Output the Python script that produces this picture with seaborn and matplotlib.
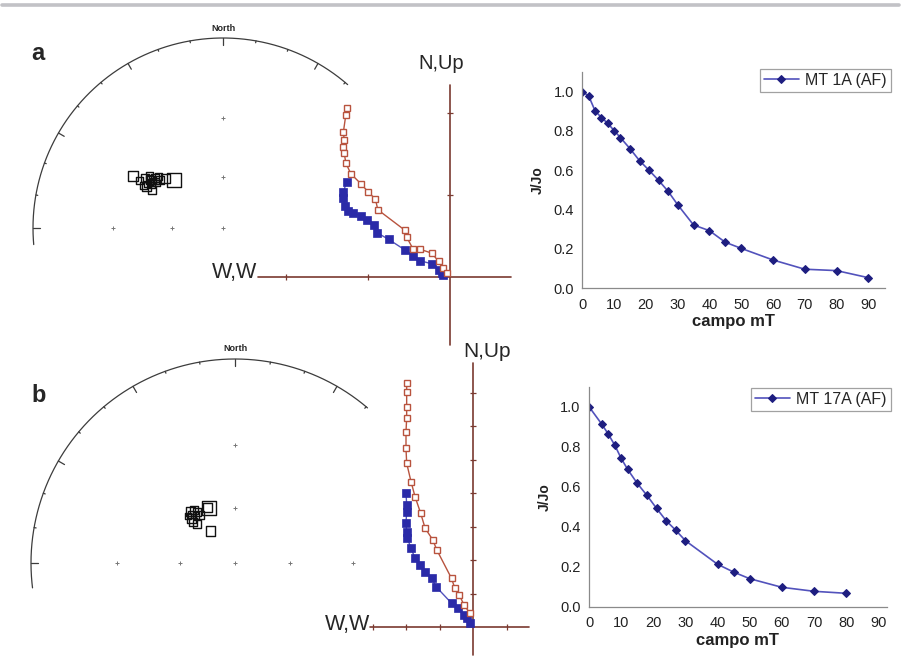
import numpy as np
import pandas as pd
import matplotlib
matplotlib.use("Agg")
import matplotlib.pyplot as plt
import seaborn as sns
from matplotlib.lines import Line2D

# ---------------- data ----------------
# AF demagnetisation curves (J/Jo vs field)
field_a = [0, 2, 4, 6, 8, 10, 12, 15, 18, 21, 24, 27, 30, 35, 40, 45, 50, 60, 70, 80, 90]
jjo_a = [1.0, 0.978, 0.903, 0.868, 0.839, 0.802, 0.766, 0.710, 0.649, 0.600, 0.549,
         0.493, 0.425, 0.322, 0.293, 0.234, 0.203, 0.144, 0.097, 0.090, 0.054]
field_b = [0, 4, 6, 8, 10, 12, 15, 18, 21, 24, 27, 30, 40, 45, 50, 60, 70, 80]
jjo_b = [1.0, 0.912, 0.863, 0.808, 0.742, 0.687, 0.617, 0.557, 0.492, 0.430, 0.382,
         0.330, 0.212, 0.173, 0.140, 0.097, 0.077, 0.067]
label_a = "MT 1A (AF)"
label_b = "MT 17A (AF)"
x_ticks = [0, 10, 20, 30, 40, 50, 60, 70, 80, 90]
y_ticks = [0.0, 0.2, 0.4, 0.6, 0.8, 1.0]

# Zijderveld diagrams (open = red, filled = blue)
zij_a_open_x = [-1.26, -1.27, -1.30, -1.29, -1.30, -1.29, -1.27, -1.21, -1.08, -1.00, -0.91,
                -0.88, -0.55, -0.53, -0.45, -0.37, -0.22, -0.14, -0.08, -0.04]
zij_a_open_y = [2.06, 1.98, 1.77, 1.67, 1.59, 1.51, 1.39, 1.26, 1.13, 1.04, 0.95,
                0.82, 0.57, 0.49, 0.34, 0.34, 0.29, 0.19, 0.11, 0.05]
zij_a_fill_x = [-1.26, -1.30, -1.30, -1.28, -1.24, -1.18, -1.08, -1.01, -0.93, -0.89, -0.75,
                -0.55, -0.45, -0.37, -0.22, -0.14, -0.10, -0.08]
zij_a_fill_y = [1.16, 1.04, 0.96, 0.86, 0.80, 0.78, 0.74, 0.70, 0.63, 0.54, 0.46,
                0.33, 0.26, 0.20, 0.16, 0.09, 0.05, 0.02]
zij_b_open_x = [-1.98, -1.98, -1.98, -1.98, -2.00, -2.00, -1.98, -1.85, -1.73, -1.56, -1.43,
                -1.20, -1.08, -0.64, -0.54, -0.41, -0.27, -0.09]
zij_b_open_y = [7.27, 7.02, 6.58, 6.23, 5.83, 5.33, 4.89, 4.34, 3.89, 3.39, 2.95,
                2.60, 2.30, 1.45, 1.15, 0.96, 0.66, 0.41]
zij_b_fill_x = [-2.00, -1.98, -1.98, -2.00, -1.98, -1.96, -1.85, -1.73, -1.58, -1.43, -1.23,
                -1.10, -0.64, -0.44, -0.27, -0.19, -0.09]
zij_b_fill_y = [4.01, 3.64, 3.44, 3.10, 2.84, 2.65, 2.35, 2.05, 1.85, 1.65, 1.45,
                1.20, 0.71, 0.56, 0.36, 0.26, 0.11]

# Stereonet directions (declination, inclination in degrees) and symbol size (pt)
dec_a = [300.0, 314.4, 303.3, 302.7, 306.3, 300.4, 298.2, 307.3, 299.5, 310.8, 305.5, 298.3,
         303.9, 298.3, 303.9, 308.7, 302.0, 304.8, 301.2, 305.0]
inc_a = [32.6, 50.3, 40.6, 38.0, 42.2, 40.8, 44.0, 44.8, 36.6, 46.2, 39.4, 41.0,
         44.0, 39.0, 42.2, 42.8, 41.5, 40.0, 42.6, 43.4]
sym_a = [7.0, 10.0, 5.5, 5.5, 5.5, 5.0, 6.0, 6.0, 5.0, 6.5, 5.0, 6.5, 5.0, 5.0, 4.5, 5.0,
         4.0, 4.0, 4.5, 4.0]
dec_b = [334.5, 333.6, 323.1, 319.2, 315.6, 314.3, 315.7, 323.3, 315.0, 323.9, 322.3, 318.0,
         320.5]
inc_b = [56.5, 56.2, 67.8, 53.4, 55.8, 57.9, 60.1, 55.4, 53.9, 57.6, 53.6, 54.6, 56.4]
sym_b = [10.0, 6.5, 6.5, 6.5, 6.5, 5.5, 5.5, 5.5, 5.0, 5.5, 5.5, 4.5, 4.5]
grid_inc = [60, 30]

# ---------------- style ----------------
sns.set_style("white")
plt.rcParams['font.family'] = ['Liberation Sans', 'DejaVu Sans']

W, H = 901, 671
fig = plt.figure(figsize=(W / 100, H / 100), dpi=100)
fig.patch.set_facecolor("white")

AXIS_BROWN = "#7a3a30"
RED = "#b8533e"
BLUE = "#2a2aa8"
BLUE_LINE = "#5252bc"
NET = "#3c3c3c"


def px_axes(cx, cy, sx, sy, xlim, ylim):
    left = cx + xlim[0] * sx
    right = cx + xlim[1] * sx
    top = cy - ylim[1] * sy
    bottom = cy - ylim[0] * sy
    ax = fig.add_axes([left / W, 1 - bottom / H, (right - left) / W, (bottom - top) / H])
    ax.set_xlim(*xlim)
    ax.set_ylim(*ylim)
    ax.patch.set_alpha(0)
    return ax


def proj(dec, inc):
    d = np.radians(np.asarray(dec))
    r = np.tan(np.radians(90 - np.asarray(inc)) / 2)
    return r * np.sin(d), r * np.cos(d)


def stereonet(cx, cy, R, arc, east_grid, dec, inc, sym, north_y):
    ax = px_axes(cx, cy, R, R, (-1.16, 1.16), (-0.2, 1.12))
    ax.axis("off")
    th = np.radians(np.linspace(arc[0], arc[1], 300))
    ax.plot(np.cos(th), np.sin(th), color=NET, lw=0.9)
    for a in range(50, 190, 10):
        if arc[0] <= a <= arc[1]:
            ln = 0.035 if a % 30 == 0 else 0.01
            t = np.radians(a)
            ax.plot([np.cos(t), (1 - ln) * np.cos(t)], [np.sin(t), (1 - ln) * np.sin(t)],
                    color=NET, lw=0.9)
    gr = np.tan(np.radians(90 - np.array(grid_inc)) / 2)
    gx = [0.0] + [0.0] * len(gr) + list(-gr)
    gy = [0.0] + list(gr) + [0.0] * len(gr)
    if east_grid:
        gx += list(gr)
        gy += [0.0] * len(gr)
    ax.plot(gx, gy, ls="none", marker="+", ms=3, mew=0.7, color="#777777")
    x, y = proj(dec, inc)
    df = pd.DataFrame({"x": x, "y": y, "s": sym})
    sizes = {v: v ** 2 for v in sorted(set(sym))}
    sns.scatterplot(data=df, x="x", y="y", size="s", sizes=sizes, marker="s",
                    facecolor="none", edgecolor="#111111", linewidth=1.0, legend=False, ax=ax)
    ax.set_xlim(-1.16, 1.16)
    ax.set_ylim(-0.2, 1.12)
    ax.text(0, north_y, "North", ha="center", va="bottom", fontsize=6.5, fontweight="bold")
    return ax


def zijderveld(cx, cy, u, hx, vy, hticks, vticks, ox, oy, fx, fy):
    ax = px_axes(cx, cy, u, u, (hx[0] - 0.1, hx[1] + 0.1), (vy[0] - 0.1, vy[1] + 0.1))
    ax.axis("off")
    ax.plot(hx, [0, 0], color=AXIS_BROWN, lw=1.2)
    ax.plot([0, 0], vy, color=AXIS_BROWN, lw=1.2)
    ax.plot(hticks, [0] * len(hticks), ls="none", marker="|", ms=4, mew=0.9, color=AXIS_BROWN)
    ax.plot([0] * len(vticks), vticks, ls="none", marker="_", ms=4, mew=0.9, color=AXIS_BROWN)
    sns.lineplot(x=fx, y=fy, sort=False, estimator=None, ax=ax, color=BLUE_LINE, lw=1.0,
                 marker="s", ms=5.5, markerfacecolor=BLUE, markeredgecolor=BLUE, mew=0.5)
    sns.lineplot(x=ox, y=oy, sort=False, estimator=None, ax=ax, color=RED, lw=1.0,
                 marker="s", ms=4.6, markerfacecolor="white", markeredgecolor=RED, mew=1.0)
    ax.set_xlim(hx[0] - 0.1, hx[1] + 0.1)
    ax.set_ylim(vy[0] - 0.1, vy[1] + 0.1)
    return ax


def demag(cx, cy, sx, sy, xmax, fld, jj, label, leg_anchor):
    ax = px_axes(cx, cy, sx, sy, (0, xmax), (0, 1.1))
    sns.lineplot(x=fld, y=jj, ax=ax, color=BLUE_LINE, lw=1.2, marker="D", ms=4.5,
                 markerfacecolor="#1e1e80", markeredgecolor="#1e1e80", label=label)
    ax.set_xlim(0, xmax)
    ax.set_ylim(0, 1.1)
    ax.set_xticks(x_ticks)
    ax.set_yticks(y_ticks)
    ax.set_yticklabels([f"{v:.1f}" for v in y_ticks])
    ax.set_yticks(np.arange(0.1, 1.11, 0.2), minor=True)
    for s in ["top", "right"]:
        ax.spines[s].set_visible(False)
    for s in ["left", "bottom"]:
        ax.spines[s].set_color("#8a8a8a")
        ax.spines[s].set_linewidth(0.9)
    ax.tick_params(which="both", direction="out", length=4, width=0.8, color="#8a8a8a",
                   labelsize=10.5, labelcolor="#222222", pad=2)
    ax.tick_params(axis="x", pad=3)
    ax.set_xlabel("campo mT", fontsize=12, fontweight="bold", labelpad=1.5, color="#222222")
    ax.set_ylabel("J/Jo", fontsize=10, fontweight="bold", labelpad=6, color="#222222")
    leg = ax.legend(loc="upper right", bbox_to_anchor=leg_anchor, borderaxespad=0,
                    frameon=True, fancybox=False, edgecolor="#8a8a8a", fontsize=11.5,
                    handlelength=2.2, borderpad=0.25, handletextpad=0.4)
    leg.get_frame().set_linewidth(0.9)
    ax.grid(False)
    return ax


def ftext(x, y, s, **kw):
    fig.text(x / W, 1 - y / H, s, **kw)


# top rule
fig.add_artist(Line2D([0.002, 0.998], [1 - 4.5 / H] * 2, transform=fig.transFigure,
                      color="#c2c2c6", lw=2.6))

# ---- panel a ----
stereonet(223, 228, 190, (49, 185), False, dec_a, inc_a, sym_a, 1.028)
zijderveld(450, 277, 82, (-2.34, 0.74), (-0.83, 2.34), [-2, -1], [1, 2],
           zij_a_open_x, zij_a_open_y, zij_a_fill_x, zij_a_fill_y)
demag(582.3, 288.3, 3.178, 196.7, 95.2, field_a, jjo_a, label_a, (1.02, 1.015))
ftext(31, 60, "a", fontsize=17, fontweight="bold", va="baseline")
ftext(418, 69, "N,Up", fontsize=14.5, va="baseline")
ftext(257, 278, "W,W", fontsize=15.5, va="baseline", ha="right")

# ---- panel b ----
stereonet(235, 563, 204, (49.5, 187), True, dec_b, inc_b, sym_b, 1.03)
zijderveld(473, 627, 33.5, (-3.07, 1.67), (-0.84, 7.88), [-3, -2, -1, 1],
           [1, 2, 3, 4, 5, 6, 7], zij_b_open_x, zij_b_open_y, zij_b_fill_x, zij_b_fill_y)
demag(589, 606.7, 3.215, 200.0, 92.6, field_b, jjo_b, label_b, (1.013, 0.994))
ftext(31, 402, "b", fontsize=17, fontweight="bold", va="baseline")
ftext(463, 357, "N,Up", fontsize=15, va="baseline")
ftext(370, 630, "W,W", fontsize=15.5, va="baseline", ha="right")

fig.savefig("out.png", dpi=100, facecolor="white")
